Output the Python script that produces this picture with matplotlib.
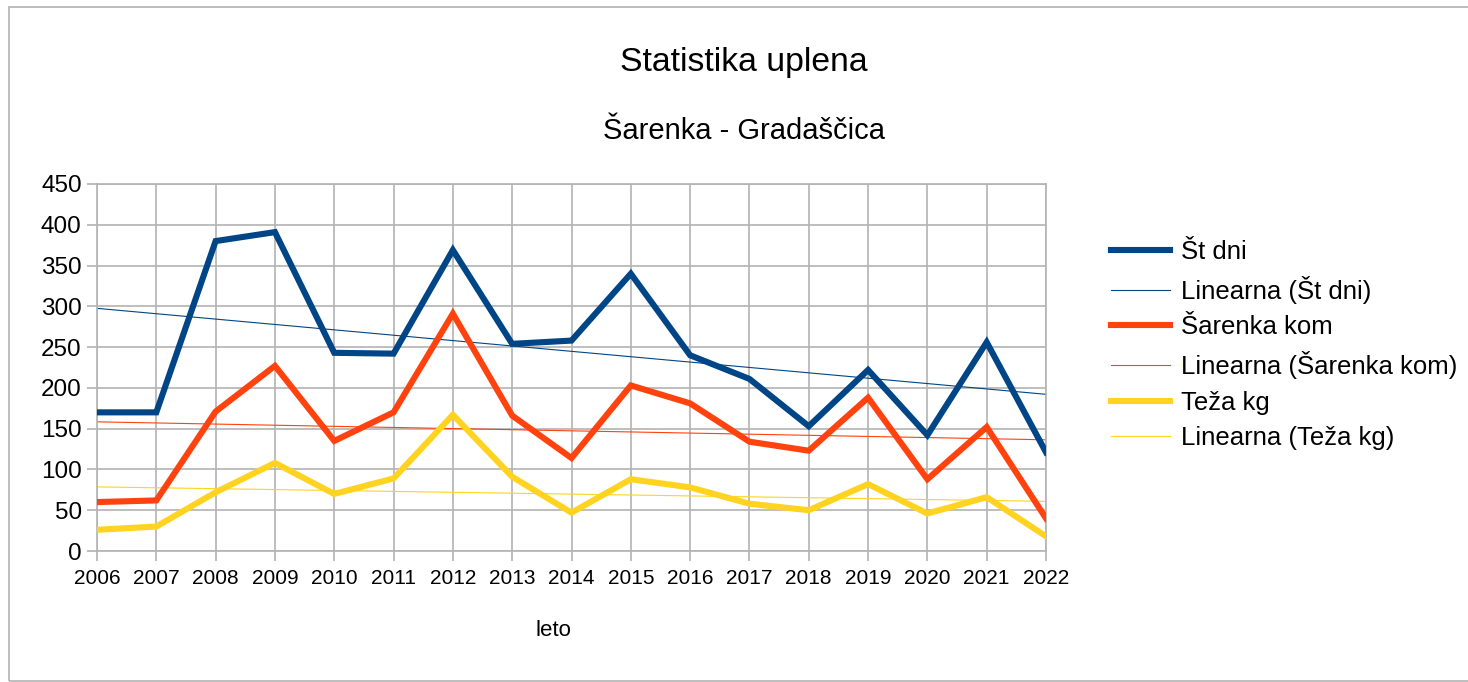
import numpy as np
import matplotlib.pyplot as plt
from matplotlib.patches import Rectangle

plt.rcParams['font.family'] = ['Liberation Sans', 'DejaVu Sans']

years = np.arange(2006, 2023)
st_dni = [170, 170, 380, 391, 243, 242, 369, 254, 258, 340, 240, 211, 153, 222, 142, 256, 121]
sarenka_kom = [60, 62, 171, 227, 135, 170, 291, 166, 114, 203, 181, 134, 123, 188, 88, 152, 40]
teza_kg = [26, 30, 72, 108, 70, 89, 167, 91, 47, 88, 78, 58, 50, 82, 46, 66, 18]

series = [
    ('Št dni', st_dni, '#004586'),
    ('Šarenka kom', sarenka_kom, '#ff420e'),
    ('Teža kg', teza_kg, '#ffd320'),
]

fig = plt.figure(figsize=(14.68, 6.82), dpi=100)
ax = fig.add_axes([97/1468, 1 - 551/682, (1046 - 97)/1468, (551 - 184)/682])

for name, vals, col in series:
    ax.plot(years, vals, color=col, linewidth=4.4, label=name, solid_joinstyle='miter', zorder=3)
    # linearni trend, kot v izvirnem grafikonu
    k, b = np.polyfit(years, vals, 1)
    ax.plot(years, k * years + b, color=col, linewidth=0.8, label=f'Linearna ({name})', zorder=2)

ax.set_xlim(2006, 2022)
ax.set_ylim(0, 450)
ax.set_xticks(years)
ax.set_yticks(np.arange(0, 451, 50))
ax.grid(True, color='#b3b3b3', linewidth=1.2)
ax.set_axisbelow(True)
for sp in ax.spines.values():
    sp.set_color('#b3b3b3')
    sp.set_linewidth(1.2)
ax.tick_params(axis='both', colors='#b3b3b3', length=7, width=1.2)
ax.tick_params(axis='y', labelcolor='black', labelsize=17.5, pad=4)
ax.tick_params(axis='x', labelcolor='black', labelsize=15, pad=6)

fig.text(744/1468, 1 - 62/682, 'Statistika uplena', ha='center', va='center', fontsize=24.3)
fig.text(744/1468, 1 - 131/682, 'Šarenka - Gradaščica', ha='center', va='center', fontsize=21)
fig.text(553/1468, 1 - 630/682, 'leto', ha='center', va='center', fontsize=16)

ax.legend(loc='upper left', bbox_to_anchor=(1101/1468, 1 - 230/682), bbox_transform=fig.transFigure,
          frameon=False, fontsize=18.5, handlelength=2.3, handletextpad=0.4, labelspacing=0.45,
          borderaxespad=0)

fig.add_artist(Rectangle((9/1468, 1 - 681/682), 1.0, (681 - 7)/682, transform=fig.transFigure,
                         fill=False, edgecolor='#b3b3b3', linewidth=1.2))

fig.savefig('out.png', dpi=100, facecolor='white')
